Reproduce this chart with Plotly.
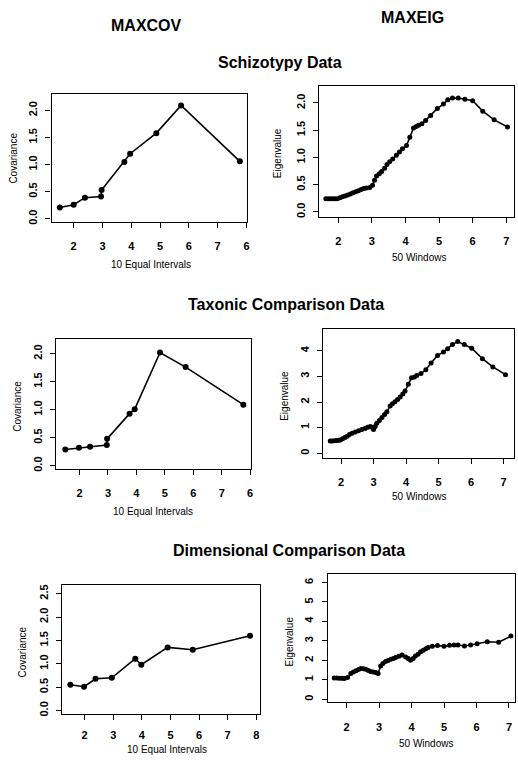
import plotly.graph_objects as go

# ---------------- data ----------------
# MAXCOV, 10 equal intervals
schizo_cov_x = [1.52, 2.00, 2.39, 2.95, 2.97, 3.76, 3.96, 4.87, 5.73, 7.77]
schizo_cov_y = [0.21, 0.26, 0.39, 0.41, 0.53, 1.05, 1.20, 1.58, 2.09, 1.06]

taxon_cov_x = [1.50, 1.98, 2.37, 2.96, 2.97, 3.76, 3.94, 4.83, 5.73, 7.76]
taxon_cov_y = [0.29, 0.32, 0.34, 0.37, 0.48, 0.93, 1.01, 2.02, 1.76, 1.09]

dimen_cov_x = [1.50, 1.98, 2.38, 2.95, 3.77, 3.98, 4.90, 5.78, 7.78]
dimen_cov_y = [0.55, 0.51, 0.68, 0.70, 1.11, 0.98, 1.35, 1.30, 1.60]

# MAXEIG, 50 windows
schizo_eig_x = [1.63, 1.70, 1.77, 1.84, 1.90, 1.97, 2.05, 2.12, 2.20, 2.28,
                2.36, 2.44, 2.52, 2.60, 2.68, 2.76, 2.84, 2.94, 3.02, 3.08,
                3.14, 3.22, 3.29, 3.38, 3.45, 3.53, 3.62, 3.73, 3.82, 3.91,
                4.03, 4.13, 4.24, 4.32, 4.39, 4.49, 4.60, 4.75, 4.95, 5.13,
                5.26, 5.40, 5.57, 5.77, 6.00, 6.30, 6.64, 7.04]
schizo_eig_y = [0.24, 0.24, 0.24, 0.24, 0.24, 0.24, 0.26, 0.28, 0.29, 0.31,
                0.33, 0.35, 0.37, 0.39, 0.41, 0.43, 0.44, 0.45, 0.49, 0.58,
                0.66, 0.70, 0.74, 0.80, 0.87, 0.92, 0.97, 1.04, 1.10, 1.16,
                1.22, 1.37, 1.54, 1.57, 1.59, 1.62, 1.68, 1.77, 1.90, 1.98,
                2.06, 2.09, 2.09, 2.07, 2.04, 1.85, 1.69, 1.56]

taxon_eig_x = [1.67, 1.73, 1.80, 1.87, 1.93, 1.98, 2.05, 2.12, 2.19, 2.26,
               2.34, 2.44, 2.54, 2.64, 2.74, 2.82, 2.90, 2.95, 3.00, 3.05,
               3.10, 3.18, 3.26, 3.34, 3.41, 3.51, 3.58, 3.66, 3.74, 3.82,
               3.90, 3.97, 4.07, 4.17, 4.26, 4.33, 4.46, 4.61, 4.77, 4.97,
               5.15, 5.28, 5.43, 5.59, 5.79, 6.02, 6.35, 6.67, 7.06]
taxon_eig_y = [0.48, 0.48, 0.49, 0.50, 0.51, 0.52, 0.57, 0.62, 0.67, 0.73,
               0.78, 0.83, 0.88, 0.93, 0.97, 1.02, 1.05, 1.02, 0.93, 1.05,
               1.17, 1.28, 1.40, 1.51, 1.62, 1.85, 1.93, 2.01, 2.10, 2.20,
               2.31, 2.43, 2.69, 2.95, 2.98, 3.04, 3.11, 3.26, 3.52, 3.82,
               3.95, 4.08, 4.25, 4.36, 4.25, 4.10, 3.69, 3.37, 3.07]

dimen_eig_x = [1.62, 1.70, 1.78, 1.86, 1.93, 2.03, 2.13, 2.21, 2.29, 2.37,
               2.44, 2.52, 2.59, 2.67, 2.74, 2.82, 2.90, 2.97, 3.05, 3.12,
               3.20, 3.28, 3.36, 3.44, 3.51, 3.61, 3.71, 3.82, 3.90, 3.97,
               4.05, 4.12, 4.20, 4.28, 4.36, 4.44, 4.51, 4.64, 4.80, 5.00,
               5.17, 5.31, 5.43, 5.63, 5.82, 6.02, 6.33, 6.68, 7.06]
dimen_eig_y = [1.10, 1.10, 1.09, 1.08, 1.07, 1.12, 1.33, 1.40, 1.47, 1.53,
               1.58, 1.57, 1.55, 1.48, 1.43, 1.40, 1.38, 1.33, 1.72, 1.84,
               1.94, 2.00, 2.06, 2.10, 2.15, 2.21, 2.28, 2.18, 2.10, 2.01,
               2.10, 2.23, 2.32, 2.45, 2.52, 2.60, 2.66, 2.73, 2.76, 2.73,
               2.78, 2.79, 2.79, 2.74, 2.79, 2.86, 2.96, 2.93, 3.25]

# tick labels
cov_x_ticks = [2, 3, 4, 5, 6, 7, 8]
cov_x_labels_top = ["2", "3", "4", "5", "6", "7", "6"]
cov_x_labels_bottom = ["2", "3", "4", "5", "6", "7", "8"]
eig_x_ticks = [2, 3, 4, 5, 6, 7]
eig_x_labels = ["2", "3", "4", "5", "6", "7"]
cov_y_ticks = [0.0, 0.5, 1.0, 1.5, 2.0]
cov_y_labels = ["0.0", "0.5", "1.0", "1.5", "2.0"]
cov_y_ticks_dim = [0.0, 0.5, 1.0, 1.5, 2.0, 2.5]
cov_y_labels_dim = ["0.0", "0.5", "1.0", "1.5", "2.0", "2.5"]
eig_y_ticks_s = [0.0, 0.5, 1.0, 1.5, 2.0]
eig_y_labels_s = ["0.0", "0.5", "1.0", "1.5", "2.0"]
eig_y_ticks_t = [0, 1, 2, 3, 4]
eig_y_labels_t = ["0", "1", "2", "3", "4"]
eig_y_ticks_d = [0, 1, 2, 3, 4, 5, 6]
eig_y_labels_d = ["0", "1", "2", "3", "4", "5", "6"]

# ---------------- layout helpers ----------------
W, H = 518, 767
FONT = "Liberation Sans, Arial, sans-serif"


def px_x(p):
    return p / W


def px_y(p):
    return 1 - p / H


panels = [
    dict(x=schizo_cov_x, y=schizo_cov_y, box=(51.7, 248, 93, 222),
         xr=(1.23, 8.02), yr=(-0.055, 2.31), xt=cov_x_ticks, xtl=cov_x_labels_top,
         yt=cov_y_ticks, ytl=cov_y_labels, ms=6, lw=1.6, xso=9),
    dict(x=schizo_eig_x, y=schizo_eig_y, box=(320.7, 516.3, 85, 216.7),
         xr=(1.44, 7.24), yr=(-0.086, 2.32), xt=eig_x_ticks, xtl=eig_x_labels,
         yt=eig_y_ticks_s, ytl=eig_y_labels_s, ms=5, lw=1.6, xso=9),
    dict(x=taxon_cov_x, y=taxon_cov_y, box=(56.7, 251.7, 339.3, 470),
         xr=(1.19, 8.02), yr=(-0.05, 2.27), xt=cov_x_ticks, xtl=cov_x_labels_top,
         yt=cov_y_ticks, ytl=cov_y_labels, ms=6, lw=1.6, xso=9),
    dict(x=taxon_eig_x, y=taxon_eig_y, box=(324.7, 516.3, 330, 459.3),
         xr=(1.46, 7.33), yr=(-0.18, 4.84), xt=eig_x_ticks, xtl=eig_x_labels,
         yt=eig_y_ticks_t, ytl=eig_y_labels_t, ms=5, lw=1.6, xso=9),
    dict(x=dimen_cov_x, y=dimen_cov_y, box=(62.3, 261, 587.3, 717),
         xr=(1.21, 8.13), yr=(-0.08, 2.68), xt=cov_x_ticks, xtl=cov_x_labels_bottom,
         yt=cov_y_ticks_dim, ytl=cov_y_labels_dim, ms=6, lw=1.6, xso=5),
    dict(x=dimen_eig_x, y=dimen_eig_y, box=(329, 516.5, 575.7, 705),
         xr=(1.42, 7.17), yr=(-0.15, 6.45), xt=eig_x_ticks, xtl=eig_x_labels,
         yt=eig_y_ticks_d, ytl=eig_y_labels_d, ms=5, lw=1.6, xso=9),
]

fig = go.Figure()
layout = dict(
    width=W, height=H, margin=dict(l=0, r=0, t=0, b=0),
    paper_bgcolor="white", plot_bgcolor="white", showlegend=False,
    font=dict(family=FONT, color="black"),
)

for i, p in enumerate(panels, start=1):
    xa = "x" if i == 1 else f"x{i}"
    ya = "y" if i == 1 else f"y{i}"
    fig.add_trace(go.Scatter(
        x=p["x"], y=p["y"], mode="lines+markers", xaxis=xa, yaxis=ya,
        line=dict(color="black", width=p["lw"]),
        marker=dict(color="black", size=p["ms"]),
        hoverinfo="skip",
    ))
    x0, x1, y0, y1 = p["box"]
    common = dict(showgrid=False, zeroline=False, showline=True, mirror=True,
                  linecolor="black", linewidth=1.3, ticks="outside", ticklen=5,
                  tickwidth=1.2, tickcolor="black",
                  tickfont=dict(family=FONT, size=11, color="black", weight="bold"))
    layout["xaxis" if i == 1 else f"xaxis{i}"] = dict(
        common, domain=[px_x(x0), px_x(x1)], range=list(p["xr"]),
        anchor=ya, tickmode="array", tickvals=p["xt"], ticktext=p["xtl"],
        ticklabelstandoff=p["xso"],
    )
    layout["yaxis" if i == 1 else f"yaxis{i}"] = dict(
        common, domain=[px_y(y1), px_y(y0)], range=list(p["yr"]),
        anchor=xa, tickmode="array", tickvals=p["yt"], ticktext=p["ytl"],
        tickangle=-90, ticklabelstandoff=4,
    )

fig.update_layout(**layout)

annotations = []


def add_text(text, x, y, size, bold=False, angle=0):
    annotations.append(dict(
        text=f"<b>{text}</b>" if bold else text, x=px_x(x), y=px_y(y),
        xref="paper", yref="paper", showarrow=False, textangle=angle,
        xanchor="center", yanchor="middle",
        font=dict(family=FONT, size=size, color="black"),
    ))


# column headers and section titles
add_text("MAXCOV", 147, 25, 16, bold=True)
add_text("MAXEIG", 414, 17, 16, bold=True)
add_text("Schizotypy Data", 281, 62, 16, bold=True)
add_text("Taxonic Comparison Data", 287, 305, 16, bold=True)
add_text("Dimensional Comparison Data", 290, 552, 16, bold=True)

# x-axis titles
add_text("10 Equal Intervals", 152, 265, 10)
add_text("50 Windows", 421, 258, 10)
add_text("10 Equal Intervals", 154, 513, 10)
add_text("50 Windows", 421, 498, 10)
add_text("10 Equal Intervals", 168, 752, 10)
add_text("50 Windows", 428, 746, 10)

# y-axis titles
add_text("Covariance", 13.5, 158, 10, angle=-90)
add_text("Eigenvalue", 278, 153, 10, angle=-90)
add_text("Covariance", 18, 407, 10, angle=-90)
add_text("Eigenvalue", 286, 397, 10, angle=-90)
add_text("Covariance", 23, 654, 10, angle=-90)
add_text("Eigenvalue", 291, 644, 10, angle=-90)

fig.update_layout(annotations=annotations)
fig.write_html(
    "out.html",
    config={"displayModeBar": False},
    post_script="document.body.style.margin='0';document.body.style.padding='0';"
                "document.body.style.overflow='hidden';"
                "document.documentElement.style.overflow='hidden';",
)
